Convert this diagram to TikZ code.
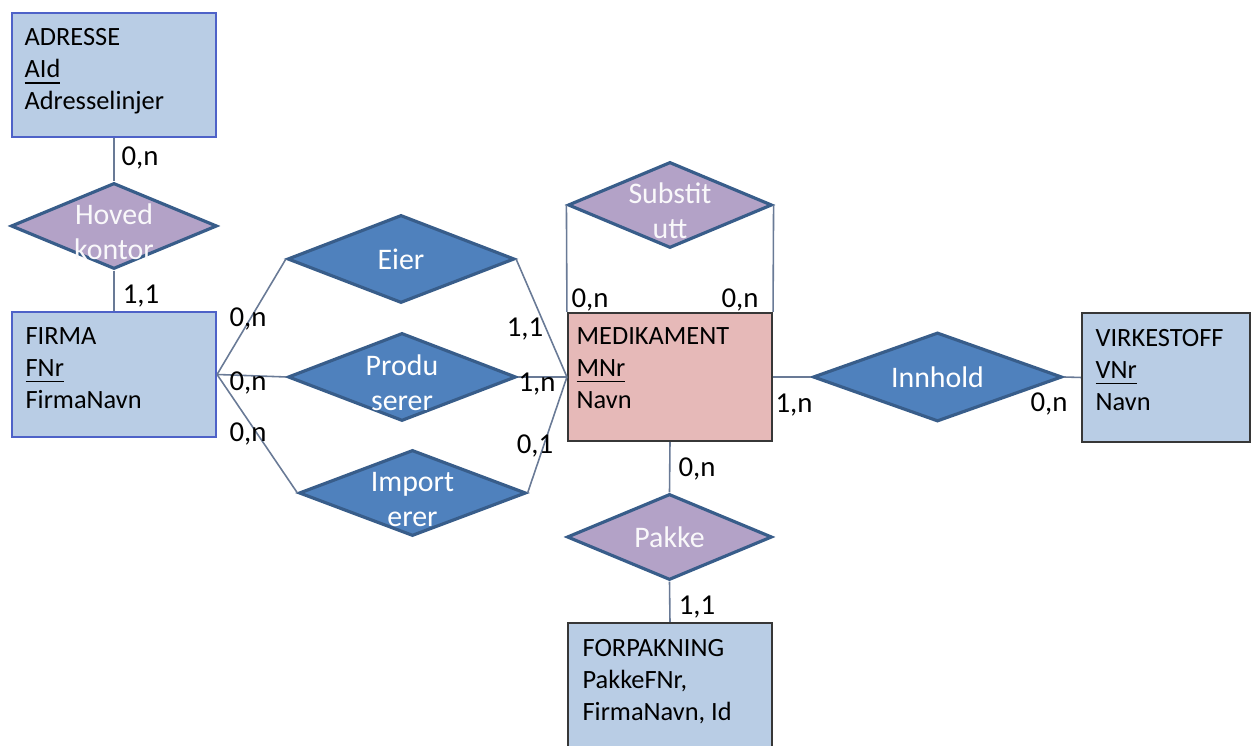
\documentclass[tikz,border=0pt]{standalone}
\usepackage{fontspec}
\setmainfont{Carlito}
\usetikzlibrary{shapes.geometric}

\definecolor{entblue}{RGB}{185,205,229}
\definecolor{entpink}{RGB}{230,185,184}
\definecolor{relblue}{RGB}{79,129,189}
\definecolor{rellila}{RGB}{179,162,199}
\definecolor{reledge}{RGB}{56,93,138}
\definecolor{entedge}{RGB}{78,98,200}
\definecolor{darkedge}{RGB}{55,55,55}
\definecolor{linegrey}{RGB}{105,122,150}

\newcommand{\topgap}{\rule{0pt}{3.2mm}}

\begin{document}
\begin{tikzpicture}[
        entity/.style={draw=entedge, fill=entblue, line width=0.6pt, minimum width=2.04cm, minimum height=1.24cm, inner sep=0pt},
        attrs/.style={anchor=north west, inner sep=0pt, align=left, font=\fontsize{7.5}{9.1}\selectfont},
        rel/.style={diamond, draw=reledge, fill=relblue, line width=0.9pt, inner sep=-3pt, shape aspect=2.5, align=center, text=white, font=\fontsize{8.5}{9.9}\selectfont},
        weakrel/.style={rel, fill=rellila, text=white!92!rellila},
        card/.style={inner sep=0pt, font=\fontsize{8.2}{9.6}\selectfont},
        conn/.style={draw=linegrey, line width=0.45pt}
    ]
            \clip (0, 0) rectangle (12.52, -7.46);

            % entities
            \node[entity] (adresse) at (1.14, -0.75) {};
            \node[attrs] (adresseTxt) at ([shift={(0.13, -0.16)}]adresse.north west) {ADRESSE\\\underline{AId}\\Adresselinjer};

            \node[entity, minimum height=1.25cm] (firma) at (1.14, -3.745) {};
            \node[attrs] (firmaTxt) at ([shift={(0.14, -0.16)}]firma.north west) {FIRMA\\\underline{FNr}\\FirmaNavn};

            \node[entity, fill=entpink, draw=darkedge, minimum height=1.28cm] (medikament) at (6.70, -3.77) {};
            \node[attrs] (medikamentTxt) at ([shift={(0.09, -0.15)}]medikament.north west) {MEDIKAMENT\\\underline{MNr}\\Navn};

            \node[entity, draw=darkedge, minimum width=1.68cm, minimum height=1.29cm] (virkestoff) at (11.66, -3.775) {};
            \node[attrs] (virkestoffTxt) at ([shift={(0.14, -0.17)}]virkestoff.north west) {VIRKESTOFF\\\underline{VNr}\\Navn};

            \node[entity, draw=darkedge, minimum height=1.40cm] (forpakning) at (6.70, -6.93) {};
            \node[attrs] (forpakningTxt) at ([shift={(0.15, -0.17)}]forpakning.north west) {FORPAKNING\\PakkeFNr,\\FirmaNavn, Id};

            % relationships
            \node[weakrel, minimum width=2.06cm, minimum height=0.86cm] (hoved) at (1.14, -2.26) {\topgap Hoved\\kontor};
            \node[weakrel, minimum width=2.04cm, minimum height=0.86cm] (substitutt) at (6.70, -2.05) {\topgap Substit\\utt};
            \node[weakrel, minimum width=2.05cm, minimum height=0.86cm] (pakke) at (6.695, -5.37) {Pakke};
            \node[rel, minimum width=2.27cm, minimum height=0.88cm] (eier) at (4.01, -2.59) {Eier};
            \node[rel, minimum width=2.28cm, minimum height=0.88cm] (produserer) at (4.02, -3.77) {\topgap Produ\\serer};
            \node[rel, minimum width=2.27cm, minimum height=0.86cm] (importerer) at (4.125, -4.93) {\topgap Import\\erer};
            \node[rel, minimum width=2.49cm, minimum height=0.89cm] (innhold) at (9.375, -3.77) {Innhold};

            % connectors
            \draw[conn] (adresse.south) -- (hoved.north);
            \draw[conn] (hoved.south) -- (firma.north);
            \draw[conn] (firma.east) -- (eier.west);
            \draw[conn] (firma.east) -- (produserer.west);
            \draw[conn] (firma.east) -- (importerer.west);
            \draw[conn] (eier.east) -- (medikament.west);
            \draw[conn] (produserer.east) -- (medikament.west);
            \draw[conn] (importerer.east) -- (medikament.west);
            \draw[conn] (substitutt.west) -- (medikament.north west);
            \draw[conn] (substitutt.east) -- (medikament.north east);
            \draw[conn] (medikament.east) -- (innhold.west);
            \draw[conn] (innhold.east) -- (virkestoff.west);
            \draw[conn] (medikament.south) -- (pakke.north);
            \draw[conn] (pakke.south) -- (forpakning.north);

            % cardinalities
            \node[card] (cAdr) at (1.40, -1.58) {0,n};
            \node[card] (cFirHov) at (1.41, -2.96) {1,1};
            \node[card] (cFirEier) at (2.48, -3.19) {0,n};
            \node[card] (cFirProd) at (2.48, -3.83) {0,n};
            \node[card] (cFirImp) at (2.48, -4.34) {0,n};
            \node[card] (cMedEier) at (5.25, -3.29) {1,1};
            \node[card] (cMedProd) at (5.37, -3.84) {1,n};
            \node[card] (cMedImp) at (5.35, -4.46) {0,1};
            \node[card] (cSubL) at (5.90, -3.00) {0,n};
            \node[card] (cSubR) at (7.40, -3.00) {0,n};
            \node[card] (cMedInn) at (7.94, -4.05) {1,n};
            \node[card] (cVirInn) at (10.49, -4.04) {0,n};
            \node[card] (cMedPak) at (6.97, -4.69) {0,n};
            \node[card] (cForPak) at (6.97, -6.07) {1,1};
        \end{tikzpicture}
\end{document}
